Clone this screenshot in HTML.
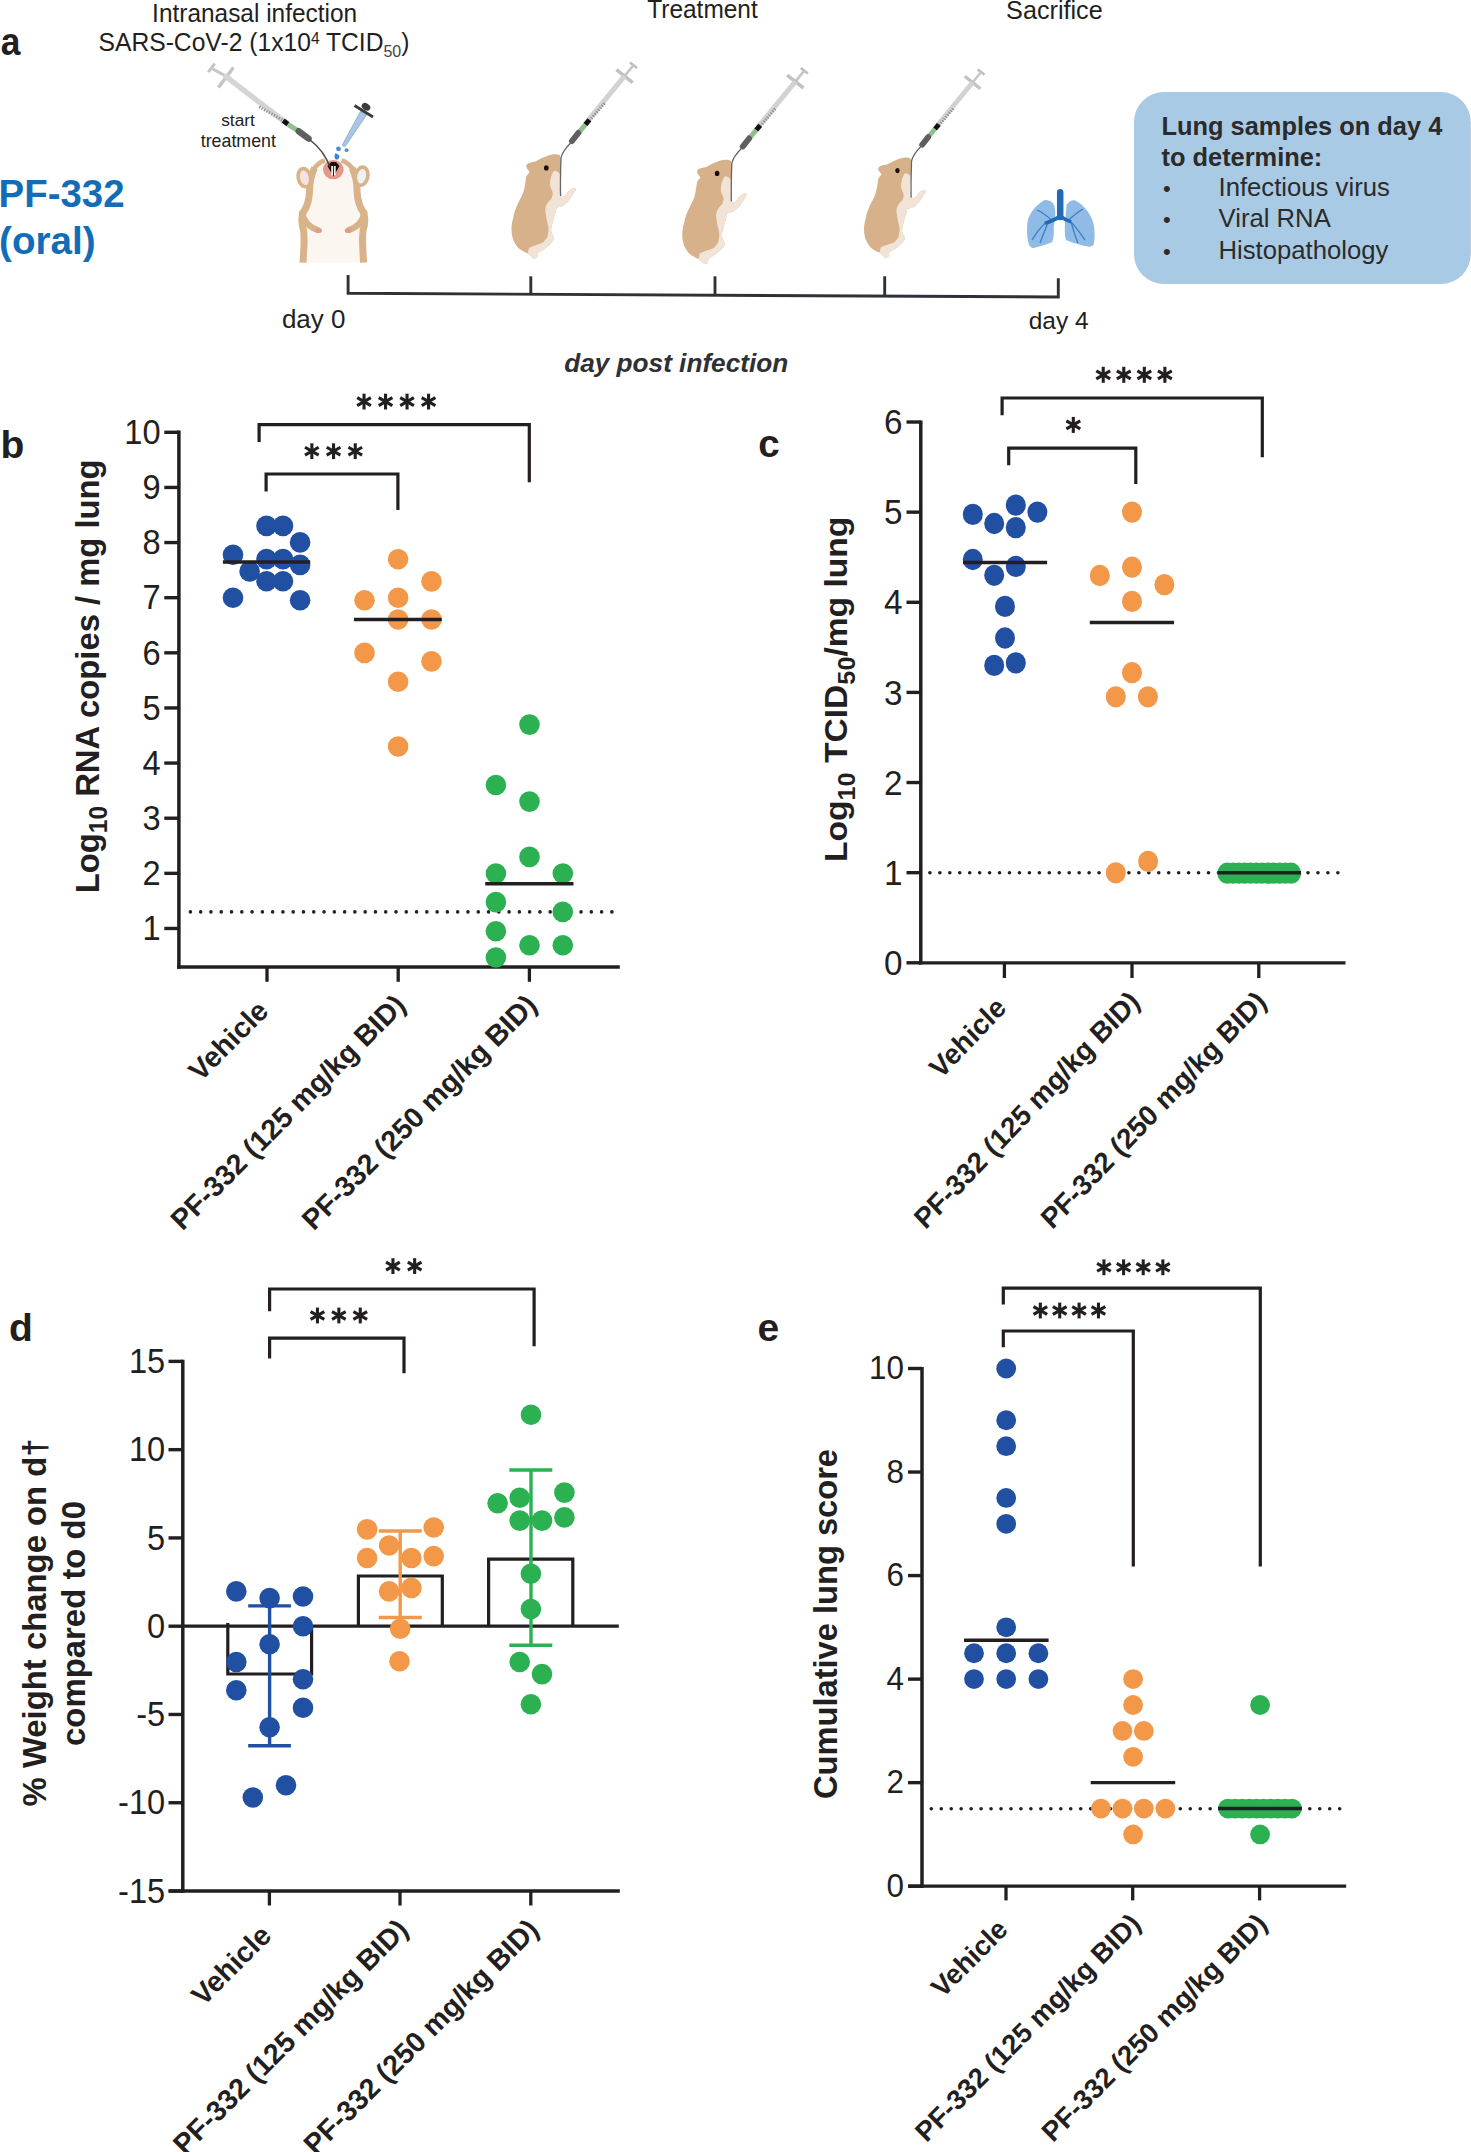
<!DOCTYPE html>
<html><head><meta charset="utf-8"><title>figure</title>
<style>
html,body{margin:0;padding:0;background:#fff;}
body{width:1471px;height:2152px;overflow:hidden;}
svg{display:block;}
</style></head><body>
<svg width="1471" height="2152" viewBox="0 0 1471 2152">
<rect width="1471" height="2152" fill="#fff"/>
<g id="a_box">
<rect x="1134" y="92" width="336.8" height="192" rx="30" ry="30" fill="#a9cae5"/>
</g>
<g id="a_a">
<text transform="translate(0.8,55) scale(0.92,1)" font-family="Liberation Sans" font-size="38.5" font-weight="700" text-anchor="start" fill="#231f20" >a</text>
</g>
<g id="a_intra">
<text transform="translate(254.6,22.4)" font-family="Liberation Sans" font-size="26" font-weight="400" text-anchor="middle" fill="#231f20"  textLength="205" lengthAdjust="spacingAndGlyphs">Intranasal infection</text>
</g>
<g id="a_sars">
<text transform="translate(98.5,51.1)" font-family="Liberation Sans" font-size="25.4" fill="#231f20" textLength="311" lengthAdjust="spacingAndGlyphs">SARS-CoV-2 (1x10<tspan font-size="16" dy="-7.6">4</tspan><tspan dy="7.6"> TCID</tspan><tspan font-size="16.5" dy="5.5" fill="#444">50</tspan><tspan dy="-5.5">)</tspan></text>
</g>
<g id="a_treat">
<text transform="translate(702.5,17.7) scale(0.93,1)" font-family="Liberation Sans" font-size="26.3" font-weight="400" text-anchor="middle" fill="#231f20" >Treatment</text>
</g>
<g id="a_sacr">
<text transform="translate(1054.4,18.8)" font-family="Liberation Sans" font-size="25.2" font-weight="400" text-anchor="middle" fill="#231f20" >Sacrifice</text>
</g>
<g id="a_pf">
<text transform="translate(-1.4,207) scale(0.97,1)" font-family="Liberation Sans" font-size="39.6" font-weight="700" text-anchor="start" fill="#126db8" >PF-332</text>
</g>
<g id="a_oral">
<text transform="translate(-0.9,253.8) scale(0.98,1)" font-family="Liberation Sans" font-size="39.4" font-weight="700" text-anchor="start" fill="#126db8" >(oral)</text>
</g>
<g id="a_day0">
<text transform="translate(313.7,327.8)" font-family="Liberation Sans" font-size="26" font-weight="400" text-anchor="middle" fill="#231f20" >day 0</text>
</g>
<g id="a_day4">
<text transform="translate(1058.6,328.8)" font-family="Liberation Sans" font-size="24.5" font-weight="400" text-anchor="middle" fill="#231f20" >day 4</text>
</g>
<g id="a_dpi">
<text transform="translate(676.2,371.6)" font-family="Liberation Sans" font-size="26.2" font-weight="700" font-style="italic" fill="#2e3033" text-anchor="middle">day post infection</text>
</g>
<g id="a_start">
<text transform="translate(238,126.3)" font-family="Liberation Sans" font-size="17.3" font-weight="400" text-anchor="middle" fill="#222" >start</text>
</g>
<g id="a_treatment">
<text transform="translate(238.3,146.5)" font-family="Liberation Sans" font-size="17.8" font-weight="400" text-anchor="middle" fill="#222" >treatment</text>
</g>
<g id="a_lung1">
<text transform="translate(1161.5,135.2)" font-family="Liberation Sans" font-size="25.4" font-weight="700" text-anchor="start" fill="#2b2b2b" >Lung samples on day 4</text>
</g>
<g id="a_lung2">
<text transform="translate(1161.5,166)" font-family="Liberation Sans" font-size="25.4" font-weight="700" text-anchor="start" fill="#2b2b2b" >to determine:</text>
</g>
<g id="a_bul0">
<text transform="translate(1163,196.2)" font-family="Liberation Sans" font-size="22" font-weight="400" text-anchor="start" fill="#2b2b2b" >•</text>
</g>
<g id="a_li0">
<text transform="translate(1218.5,196.2)" font-family="Liberation Sans" font-size="25.7" font-weight="400" text-anchor="start" fill="#2b2b2b" >Infectious virus</text>
</g>
<g id="a_bul1">
<text transform="translate(1163,227.4)" font-family="Liberation Sans" font-size="22" font-weight="400" text-anchor="start" fill="#2b2b2b" >•</text>
</g>
<g id="a_li1">
<text transform="translate(1218.5,227.4)" font-family="Liberation Sans" font-size="25.7" font-weight="400" text-anchor="start" fill="#2b2b2b" >Viral RNA</text>
</g>
<g id="a_bul2">
<text transform="translate(1163,258.6)" font-family="Liberation Sans" font-size="22" font-weight="400" text-anchor="start" fill="#2b2b2b" >•</text>
</g>
<g id="a_li2">
<text transform="translate(1218.5,258.6)" font-family="Liberation Sans" font-size="25.7" font-weight="400" text-anchor="start" fill="#2b2b2b" >Histopathology</text>
</g>
<g id="a_timeline">
<path d="M348.1,275.1 L348.1,293.3 L1058.3,297.0 L1058.3,278.2" fill="none" stroke="#2e3236" stroke-width="2.9"/>
<line x1="530.8" y1="276.3" x2="530.8" y2="294.25" stroke="#2e3236" stroke-width="2.9" />
<line x1="715" y1="276.3" x2="715" y2="295.21" stroke="#2e3236" stroke-width="2.9" />
<line x1="884.7" y1="276.3" x2="884.7" y2="296.1" stroke="#2e3236" stroke-width="2.9" />
</g>
<g id="a_art">
<path d="M314,168 C311,176 310,185 310,195 C309,205 306,212 305,220 L305,262.6 L362,262.6 L362,220 C361,212 358,205 357,195 C357,185 356,176 353,168 C348,162 340,158 333.5,158 C327,158 319,162 314,168 Z" fill="#fcf6f1"/>
<path d="M314.5,168 C311,175 309.5,183 309.5,192 C309,200 307,207 303.5,212 C301,218 301.5,224 303.5,230 C305,240 303.5,252 303,262.6" fill="none" stroke="#d8b38a" stroke-width="7"/>
<path d="M352.1,168 C355.6,175 357.1,183 357.1,192 C357.6,200 359.6,207 363.1,212 C365.6,218 365.1,224 363.1,230 C361.6,240 363.1,252 363.6,262.6" fill="none" stroke="#d8b38a" stroke-width="7"/>
<path d="M313,170 C317,164 321,161.5 325,160.5 M341.5,160.5 C345.5,161.5 349.5,164 353.5,170" fill="none" stroke="#d8b38a" stroke-width="4.5"/>
<path d="M302,213 C304,222 310,227.5 318,230" fill="none" stroke="#d8b38a" stroke-width="6" stroke-linecap="round"/>
<path d="M364.6,213 C362.6,222 356.6,227.5 348.6,230" fill="none" stroke="#d8b38a" stroke-width="6" stroke-linecap="round"/>
<ellipse cx="318.5" cy="230.5" rx="3.5" ry="2.6" fill="#dca184"/><ellipse cx="348.3" cy="230.5" rx="3.5" ry="2.6" fill="#dca184"/>
<ellipse cx="304.4" cy="177.7" rx="6.2" ry="9.2" transform="rotate(-12 304.4 177.7)" fill="#f3e3e3" stroke="#d8b38a" stroke-width="3.6"/>
<ellipse cx="361.6" cy="176.2" rx="6.2" ry="9.2" transform="rotate(12 361.6 176.2)" fill="#eef0f4" stroke="#d8b38a" stroke-width="3.6"/>
<ellipse cx="333.3" cy="169.6" rx="10.3" ry="9.6" fill="#e3978d"/>
<path d="M327.5,166 L333.4,176.5 L339.5,166 L336,162 L331,162 Z" fill="#1a0c0c"/>
<rect x="331.2" y="166" width="1.8" height="9.5" fill="#f4eee8"/><rect x="333.9" y="166" width="1.8" height="9.5" fill="#f4eee8"/>
<g transform="translate(560.4,156) scale(1) translate(-560.4,-156)">
<path d="M559.9,155.2 C557,154 555,154 552.3,154.4 C549,155 546,156.3 543.1,157.6 C540,159 538,160.3 535.5,161.4 C532,162 529.5,162.5 527.8,163.6 C526,165 526,166.5 526.8,167.9 C527.5,169.5 529.5,171 529.5,172.3 C528,174 526.5,175.5 526.2,177.2 C525.8,178.5 525.7,179.5 525.7,180.5 C525,185 524.5,189 522.9,193.5 C521,198 519,201 517.5,204.4 C515,210 514,213 513.2,218 C512,222 511.5,225 511.5,228.8 C511.5,233 512,236 513.2,239.7 C515,244 517,247 520.2,249.5 C523,251.5 525.5,252.5 527.8,253.3 L530.6,256 L533.8,258.8 L537.1,257.7 L537.6,253.3 C540,251.8 542,250.5 544.2,249 C547,247 550,244.5 551.8,242.4 C553,241 554,239.5 553.9,238.1 C553.5,236 551.5,233.5 551.2,231.6 C551,228.5 551.5,226 552.3,223.4 C553.5,219 554.5,215 555.6,211.4 L556.7,207.6 C559,207 561.5,206.5 563.7,205.5 C565.5,204 567.5,202 569.2,200 C571,197.5 572.5,195 574.1,192.4 C575,191.2 576,190.2 576.2,189.2 C575.5,188.2 574,187.8 573,188.1 C571.5,188.8 570,190 568.6,191.3 C567,193 566,194.8 564.8,196.2 C563.5,196.8 562,197 561,196.8 C560,194 559.5,191 559.4,188.1 C559.3,183.5 559.6,179 559.9,174.5 C560.2,170.5 561,167 561,163.6 C561,160.5 560.8,157.5 559.9,155.2 Z" fill="#d6b189"/>
<path d="M553.9,170.7 C552.5,173 551.3,175.5 550.7,178.3 C550.2,180.5 550,183 550.1,185.3 C550.5,188 552.5,191 552.9,193.5 C552.5,196 551.8,197.5 551.2,198.9 C550,200 549,201 548,202.2 C546.5,204.5 545.5,207 545.2,209.8 C545.5,213.5 546.2,217 546.9,220.7 C547.5,223.5 548.3,226 548.5,228.8 C548.5,231.5 548,234.5 547.4,237 C546,239 544.8,240.8 543.1,242.4 C540.5,243.5 538,244.5 535.5,245.2 C533,246 531,247 528.9,247.9 L527.8,253.3 L530.6,256 L533.8,258.8 L537.1,257.7 L537.6,253.3 C540,251.8 542,250.5 544.2,249 C547,247 550,244.5 551.8,242.4 C553,241 554,239.5 553.9,238.1 C553.5,236 551.5,233.5 551.2,231.6 C551,228.5 551.5,226 552.3,223.4 C553.5,219 554.5,215 555.6,211.4 L556.7,207.6 C559,207 561.5,206.5 563.7,205.5 C565.5,204 567.5,202 569.2,200 C571,197.5 572.5,195 574.1,192.4 C575,191.2 576,190.2 576.2,189.2 C575.5,188.2 574,187.8 573,188.1 C571.5,188.8 570,190 568.6,191.3 C567,193 566,194.8 564.8,196.2 C563.5,196.8 562,197 561,196.8 C560,194 559.5,191 559.4,188.1 C559.3,183.5 559.6,179 559.9,174.5 C559,172 556,170.5 553.9,170.7 Z" fill="#f1e4d6"/>
<ellipse cx="546.3" cy="167.9" rx="2.3" ry="2.7" fill="#1a0a0a"/>
<g>
<line x1="630" y1="62.5" x2="637" y2="68" stroke="#bdbdbd" stroke-width="2.6"/>
<line x1="633.5" y1="65.2" x2="624.5" y2="76.1" stroke="#c6c6c6" stroke-width="2.6"/>
<line x1="616.4" y1="69.6" x2="632.7" y2="82.6" stroke="#c2c2c2" stroke-width="3.6"/>
<line x1="624.5" y1="76.1" x2="587.5" y2="121.2" stroke="#d2d2d2" stroke-width="5"/>
<line x1="604.4" y1="103.3" x2="589.8" y2="120.3" stroke="#8a8a8a" stroke-width="3" stroke-dasharray="1.2,1.5"/>
<line x1="589.4" y1="119.8" x2="585.3" y2="124.6" stroke="#111" stroke-width="5"/>
<line x1="585.3" y1="124.6" x2="579.3" y2="131.8" stroke="#8fc08f" stroke-width="5"/>
<line x1="578.3" y1="133" x2="572" y2="141" stroke="#5f5f5f" stroke-width="6" stroke-linecap="round"/>
<path d="M571.5,142 C566,147.5 562,152 561,158 C560.6,170 560.2,185 560.6,196" fill="none" stroke="#666" stroke-width="1.3"/>
</g>
</g>
<g transform="translate(731.2,161.5) scale(1) translate(-560.4,-156)">
<path d="M559.9,155.2 C557,154 555,154 552.3,154.4 C549,155 546,156.3 543.1,157.6 C540,159 538,160.3 535.5,161.4 C532,162 529.5,162.5 527.8,163.6 C526,165 526,166.5 526.8,167.9 C527.5,169.5 529.5,171 529.5,172.3 C528,174 526.5,175.5 526.2,177.2 C525.8,178.5 525.7,179.5 525.7,180.5 C525,185 524.5,189 522.9,193.5 C521,198 519,201 517.5,204.4 C515,210 514,213 513.2,218 C512,222 511.5,225 511.5,228.8 C511.5,233 512,236 513.2,239.7 C515,244 517,247 520.2,249.5 C523,251.5 525.5,252.5 527.8,253.3 L530.6,256 L533.8,258.8 L537.1,257.7 L537.6,253.3 C540,251.8 542,250.5 544.2,249 C547,247 550,244.5 551.8,242.4 C553,241 554,239.5 553.9,238.1 C553.5,236 551.5,233.5 551.2,231.6 C551,228.5 551.5,226 552.3,223.4 C553.5,219 554.5,215 555.6,211.4 L556.7,207.6 C559,207 561.5,206.5 563.7,205.5 C565.5,204 567.5,202 569.2,200 C571,197.5 572.5,195 574.1,192.4 C575,191.2 576,190.2 576.2,189.2 C575.5,188.2 574,187.8 573,188.1 C571.5,188.8 570,190 568.6,191.3 C567,193 566,194.8 564.8,196.2 C563.5,196.8 562,197 561,196.8 C560,194 559.5,191 559.4,188.1 C559.3,183.5 559.6,179 559.9,174.5 C560.2,170.5 561,167 561,163.6 C561,160.5 560.8,157.5 559.9,155.2 Z" fill="#d6b189"/>
<path d="M553.9,170.7 C552.5,173 551.3,175.5 550.7,178.3 C550.2,180.5 550,183 550.1,185.3 C550.5,188 552.5,191 552.9,193.5 C552.5,196 551.8,197.5 551.2,198.9 C550,200 549,201 548,202.2 C546.5,204.5 545.5,207 545.2,209.8 C545.5,213.5 546.2,217 546.9,220.7 C547.5,223.5 548.3,226 548.5,228.8 C548.5,231.5 548,234.5 547.4,237 C546,239 544.8,240.8 543.1,242.4 C540.5,243.5 538,244.5 535.5,245.2 C533,246 531,247 528.9,247.9 L527.8,253.3 L530.6,256 L533.8,258.8 L537.1,257.7 L537.6,253.3 C540,251.8 542,250.5 544.2,249 C547,247 550,244.5 551.8,242.4 C553,241 554,239.5 553.9,238.1 C553.5,236 551.5,233.5 551.2,231.6 C551,228.5 551.5,226 552.3,223.4 C553.5,219 554.5,215 555.6,211.4 L556.7,207.6 C559,207 561.5,206.5 563.7,205.5 C565.5,204 567.5,202 569.2,200 C571,197.5 572.5,195 574.1,192.4 C575,191.2 576,190.2 576.2,189.2 C575.5,188.2 574,187.8 573,188.1 C571.5,188.8 570,190 568.6,191.3 C567,193 566,194.8 564.8,196.2 C563.5,196.8 562,197 561,196.8 C560,194 559.5,191 559.4,188.1 C559.3,183.5 559.6,179 559.9,174.5 C559,172 556,170.5 553.9,170.7 Z" fill="#f1e4d6"/>
<ellipse cx="546.3" cy="167.9" rx="2.3" ry="2.7" fill="#1a0a0a"/>
<g>
<line x1="630" y1="62.5" x2="637" y2="68" stroke="#bdbdbd" stroke-width="2.6"/>
<line x1="633.5" y1="65.2" x2="624.5" y2="76.1" stroke="#c6c6c6" stroke-width="2.6"/>
<line x1="616.4" y1="69.6" x2="632.7" y2="82.6" stroke="#c2c2c2" stroke-width="3.6"/>
<line x1="624.5" y1="76.1" x2="587.5" y2="121.2" stroke="#d2d2d2" stroke-width="5"/>
<line x1="604.4" y1="103.3" x2="589.8" y2="120.3" stroke="#8a8a8a" stroke-width="3" stroke-dasharray="1.2,1.5"/>
<line x1="589.4" y1="119.8" x2="585.3" y2="124.6" stroke="#111" stroke-width="5"/>
<line x1="585.3" y1="124.6" x2="579.3" y2="131.8" stroke="#8fc08f" stroke-width="5"/>
<line x1="578.3" y1="133" x2="572" y2="141" stroke="#5f5f5f" stroke-width="6" stroke-linecap="round"/>
<path d="M571.5,142 C566,147.5 562,152 561,158 C560.6,170 560.2,185 560.6,196" fill="none" stroke="#666" stroke-width="1.3"/>
</g>
</g>
<g transform="translate(911,159.2) scale(0.96) translate(-560.4,-156)">
<path d="M559.9,155.2 C557,154 555,154 552.3,154.4 C549,155 546,156.3 543.1,157.6 C540,159 538,160.3 535.5,161.4 C532,162 529.5,162.5 527.8,163.6 C526,165 526,166.5 526.8,167.9 C527.5,169.5 529.5,171 529.5,172.3 C528,174 526.5,175.5 526.2,177.2 C525.8,178.5 525.7,179.5 525.7,180.5 C525,185 524.5,189 522.9,193.5 C521,198 519,201 517.5,204.4 C515,210 514,213 513.2,218 C512,222 511.5,225 511.5,228.8 C511.5,233 512,236 513.2,239.7 C515,244 517,247 520.2,249.5 C523,251.5 525.5,252.5 527.8,253.3 L530.6,256 L533.8,258.8 L537.1,257.7 L537.6,253.3 C540,251.8 542,250.5 544.2,249 C547,247 550,244.5 551.8,242.4 C553,241 554,239.5 553.9,238.1 C553.5,236 551.5,233.5 551.2,231.6 C551,228.5 551.5,226 552.3,223.4 C553.5,219 554.5,215 555.6,211.4 L556.7,207.6 C559,207 561.5,206.5 563.7,205.5 C565.5,204 567.5,202 569.2,200 C571,197.5 572.5,195 574.1,192.4 C575,191.2 576,190.2 576.2,189.2 C575.5,188.2 574,187.8 573,188.1 C571.5,188.8 570,190 568.6,191.3 C567,193 566,194.8 564.8,196.2 C563.5,196.8 562,197 561,196.8 C560,194 559.5,191 559.4,188.1 C559.3,183.5 559.6,179 559.9,174.5 C560.2,170.5 561,167 561,163.6 C561,160.5 560.8,157.5 559.9,155.2 Z" fill="#d6b189"/>
<path d="M553.9,170.7 C552.5,173 551.3,175.5 550.7,178.3 C550.2,180.5 550,183 550.1,185.3 C550.5,188 552.5,191 552.9,193.5 C552.5,196 551.8,197.5 551.2,198.9 C550,200 549,201 548,202.2 C546.5,204.5 545.5,207 545.2,209.8 C545.5,213.5 546.2,217 546.9,220.7 C547.5,223.5 548.3,226 548.5,228.8 C548.5,231.5 548,234.5 547.4,237 C546,239 544.8,240.8 543.1,242.4 C540.5,243.5 538,244.5 535.5,245.2 C533,246 531,247 528.9,247.9 L527.8,253.3 L530.6,256 L533.8,258.8 L537.1,257.7 L537.6,253.3 C540,251.8 542,250.5 544.2,249 C547,247 550,244.5 551.8,242.4 C553,241 554,239.5 553.9,238.1 C553.5,236 551.5,233.5 551.2,231.6 C551,228.5 551.5,226 552.3,223.4 C553.5,219 554.5,215 555.6,211.4 L556.7,207.6 C559,207 561.5,206.5 563.7,205.5 C565.5,204 567.5,202 569.2,200 C571,197.5 572.5,195 574.1,192.4 C575,191.2 576,190.2 576.2,189.2 C575.5,188.2 574,187.8 573,188.1 C571.5,188.8 570,190 568.6,191.3 C567,193 566,194.8 564.8,196.2 C563.5,196.8 562,197 561,196.8 C560,194 559.5,191 559.4,188.1 C559.3,183.5 559.6,179 559.9,174.5 C559,172 556,170.5 553.9,170.7 Z" fill="#f1e4d6"/>
<ellipse cx="546.3" cy="167.9" rx="2.3" ry="2.7" fill="#1a0a0a"/>
<g>
<line x1="630" y1="62.5" x2="637" y2="68" stroke="#bdbdbd" stroke-width="2.6"/>
<line x1="633.5" y1="65.2" x2="624.5" y2="76.1" stroke="#c6c6c6" stroke-width="2.6"/>
<line x1="616.4" y1="69.6" x2="632.7" y2="82.6" stroke="#c2c2c2" stroke-width="3.6"/>
<line x1="624.5" y1="76.1" x2="587.5" y2="121.2" stroke="#d2d2d2" stroke-width="5"/>
<line x1="604.4" y1="103.3" x2="589.8" y2="120.3" stroke="#8a8a8a" stroke-width="3" stroke-dasharray="1.2,1.5"/>
<line x1="589.4" y1="119.8" x2="585.3" y2="124.6" stroke="#111" stroke-width="5"/>
<line x1="585.3" y1="124.6" x2="579.3" y2="131.8" stroke="#8fc08f" stroke-width="5"/>
<line x1="578.3" y1="133" x2="572" y2="141" stroke="#5f5f5f" stroke-width="6" stroke-linecap="round"/>
<path d="M571.5,142 C566,147.5 562,152 561,158 C560.6,170 560.2,185 560.6,196" fill="none" stroke="#666" stroke-width="1.3"/>
</g>
</g>
<line x1="208.2" y1="72.1" x2="214.7" y2="63.6" stroke="#c4c4c4" stroke-width="3"/>
<line x1="211.4" y1="68.1" x2="224.5" y2="75.4" stroke="#c8c8c8" stroke-width="3"/>
<line x1="218.4" y1="87.6" x2="233.4" y2="67.6" stroke="#c4c4c4" stroke-width="3.3"/>
<line x1="224.5" y1="75.4" x2="284" y2="121.2" stroke="#d4d4d4" stroke-width="5.5"/>
<line x1="259.3" y1="106.8" x2="283.2" y2="120.5" stroke="#8c8c8c" stroke-width="3" stroke-dasharray="1.2,1.6"/>
<line x1="283.2" y1="120.5" x2="288" y2="124.3" stroke="#111" stroke-width="5"/>
<line x1="288" y1="124.3" x2="297.5" y2="130.5" stroke="#8fc08f" stroke-width="5"/>
<line x1="298.8" y1="131.3" x2="308.5" y2="138.5" stroke="#5f5f5f" stroke-width="6.5" stroke-linecap="round"/>
<path d="M309.5,139.5 C318,146 326,156 330,167" fill="none" stroke="#444" stroke-width="1.5"/>
<path d="M360.5,111.3 L366.5,114.9 L345.9,145.4 C345,146.8 343,146.6 342.3,145 Z" fill="#a9c6e6" stroke="#8aa6c4" stroke-width="0.8"/>
<line x1="354.5" y1="105.5" x2="373" y2="117" stroke="#3a3a3a" stroke-width="2.8"/>
<ellipse cx="366" cy="106.8" rx="4.6" ry="3.4" transform="rotate(32 366 106.8)" fill="#3d3d3d"/>
<circle cx="338.5" cy="148.9" r="2.4" fill="#4a8fd4"/><circle cx="346.6" cy="150.2" r="1.9" fill="#5a8fc4"/>
<path d="M335.5,153 C334,156 334,158.5 336,159.5 C338.5,160 340,157.5 339,155 Z" fill="#3b86d6"/>
<path d="M1044.1,200.2 C1036,205 1029.5,213 1027.7,221.1 C1026.5,230 1027,239 1029.2,245.1 C1030.5,247.5 1032,248.3 1033.6,248 C1040,246.5 1047,244.5 1052.3,242.1 C1054,237 1054,231 1053.8,226.4 C1054.5,221 1055.5,216.5 1055.3,212.2 C1055,207 1054,204 1052.3,202.4 C1050,200.5 1047,199.5 1044.1,200.2 Z" fill="#8fbbe6"/>
<path d="M1074.8,200.2 C1083,204 1090.5,213 1093.5,223.4 C1095,231 1095,239 1093.5,245.1 C1092,246.5 1090,247 1088.2,246.6 C1080,245 1071,242.5 1065.8,239.8 C1064.5,234 1064.6,228 1065.1,221.9 C1065.6,215 1066.3,209.5 1066.6,204.7 C1068.5,201.5 1071.5,199.8 1074.8,200.2 Z" fill="#8fbbe6"/>
<path d="M1059.8,216.6 C1055,219.5 1050,221.5 1044.9,223.4 M1044.9,223.4 C1040,228 1036,233 1032,240 M1048,222 C1046,228 1043,235 1040,243 M1060.5,216.6 C1064,219 1067,220.5 1071,221.9 M1071,221.9 C1076,227 1080,233 1085,240 M1071,221.9 C1073,229 1075,236 1078,243 M1068,220.5 C1073,216 1078,212 1083,209 M1052,220.5 C1047,216 1042,212 1037,210" fill="none" stroke="#3d7cc2" stroke-width="1.3"/>
<path d="M1059.8,216.6 C1055,219.5 1050,221.5 1044.9,223.4 M1060.5,216.6 C1064,219 1067,220.5 1071,221.9" fill="none" stroke="#1f6bb5" stroke-width="3.6"/>
<line x1="1060.2" y1="192.3" x2="1060.2" y2="217" stroke="#1f6bb5" stroke-width="6.5" stroke-linecap="round"/>
</g>
<g id="b_axes">
<line x1="178.9" y1="430.6" x2="178.9" y2="968.7" stroke="#231f20" stroke-width="3.5" />
<line x1="177.2" y1="967" x2="619.8" y2="967" stroke="#231f20" stroke-width="3.5" />
<line x1="164.3" y1="928.47" x2="178.9" y2="928.47" stroke="#231f20" stroke-width="3.4" />
<text transform="translate(160.6,940.19) scale(0.94,1)" font-family="Liberation Sans" font-size="34.7" font-weight="400" text-anchor="end" fill="#231f20" >1</text>
<line x1="164.3" y1="873.34" x2="178.9" y2="873.34" stroke="#231f20" stroke-width="3.4" />
<text transform="translate(160.6,885.06) scale(0.94,1)" font-family="Liberation Sans" font-size="34.7" font-weight="400" text-anchor="end" fill="#231f20" >2</text>
<line x1="164.3" y1="818.21" x2="178.9" y2="818.21" stroke="#231f20" stroke-width="3.4" />
<text transform="translate(160.6,829.93) scale(0.94,1)" font-family="Liberation Sans" font-size="34.7" font-weight="400" text-anchor="end" fill="#231f20" >3</text>
<line x1="164.3" y1="763.08" x2="178.9" y2="763.08" stroke="#231f20" stroke-width="3.4" />
<text transform="translate(160.6,774.8) scale(0.94,1)" font-family="Liberation Sans" font-size="34.7" font-weight="400" text-anchor="end" fill="#231f20" >4</text>
<line x1="164.3" y1="707.95" x2="178.9" y2="707.95" stroke="#231f20" stroke-width="3.4" />
<text transform="translate(160.6,719.67) scale(0.94,1)" font-family="Liberation Sans" font-size="34.7" font-weight="400" text-anchor="end" fill="#231f20" >5</text>
<line x1="164.3" y1="652.82" x2="178.9" y2="652.82" stroke="#231f20" stroke-width="3.4" />
<text transform="translate(160.6,664.54) scale(0.94,1)" font-family="Liberation Sans" font-size="34.7" font-weight="400" text-anchor="end" fill="#231f20" >6</text>
<line x1="164.3" y1="597.69" x2="178.9" y2="597.69" stroke="#231f20" stroke-width="3.4" />
<text transform="translate(160.6,609.41) scale(0.94,1)" font-family="Liberation Sans" font-size="34.7" font-weight="400" text-anchor="end" fill="#231f20" >7</text>
<line x1="164.3" y1="542.56" x2="178.9" y2="542.56" stroke="#231f20" stroke-width="3.4" />
<text transform="translate(160.6,554.28) scale(0.94,1)" font-family="Liberation Sans" font-size="34.7" font-weight="400" text-anchor="end" fill="#231f20" >8</text>
<line x1="164.3" y1="487.43" x2="178.9" y2="487.43" stroke="#231f20" stroke-width="3.4" />
<text transform="translate(160.6,499.15) scale(0.94,1)" font-family="Liberation Sans" font-size="34.7" font-weight="400" text-anchor="end" fill="#231f20" >9</text>
<line x1="164.3" y1="432.3" x2="178.9" y2="432.3" stroke="#231f20" stroke-width="3.4" />
<text transform="translate(160.6,444.02) scale(0.94,1)" font-family="Liberation Sans" font-size="34.7" font-weight="400" text-anchor="end" fill="#231f20" >10</text>
<line x1="267" y1="967" x2="267" y2="981.8" stroke="#231f20" stroke-width="3.3" />
<line x1="398.2" y1="967" x2="398.2" y2="981.8" stroke="#231f20" stroke-width="3.3" />
<line x1="529.4" y1="967" x2="529.4" y2="981.8" stroke="#231f20" stroke-width="3.3" />
</g>
<g id="b_data">
<circle cx="190.4" cy="911.9" r="1.8" fill="#231f20"/>
<circle cx="200.68" cy="911.9" r="1.8" fill="#231f20"/>
<circle cx="210.96" cy="911.9" r="1.8" fill="#231f20"/>
<circle cx="221.24" cy="911.9" r="1.8" fill="#231f20"/>
<circle cx="231.52" cy="911.9" r="1.8" fill="#231f20"/>
<circle cx="241.8" cy="911.9" r="1.8" fill="#231f20"/>
<circle cx="252.08" cy="911.9" r="1.8" fill="#231f20"/>
<circle cx="262.36" cy="911.9" r="1.8" fill="#231f20"/>
<circle cx="272.64" cy="911.9" r="1.8" fill="#231f20"/>
<circle cx="282.92" cy="911.9" r="1.8" fill="#231f20"/>
<circle cx="293.2" cy="911.9" r="1.8" fill="#231f20"/>
<circle cx="303.48" cy="911.9" r="1.8" fill="#231f20"/>
<circle cx="313.76" cy="911.9" r="1.8" fill="#231f20"/>
<circle cx="324.04" cy="911.9" r="1.8" fill="#231f20"/>
<circle cx="334.32" cy="911.9" r="1.8" fill="#231f20"/>
<circle cx="344.6" cy="911.9" r="1.8" fill="#231f20"/>
<circle cx="354.88" cy="911.9" r="1.8" fill="#231f20"/>
<circle cx="365.16" cy="911.9" r="1.8" fill="#231f20"/>
<circle cx="375.44" cy="911.9" r="1.8" fill="#231f20"/>
<circle cx="385.72" cy="911.9" r="1.8" fill="#231f20"/>
<circle cx="396" cy="911.9" r="1.8" fill="#231f20"/>
<circle cx="406.28" cy="911.9" r="1.8" fill="#231f20"/>
<circle cx="416.56" cy="911.9" r="1.8" fill="#231f20"/>
<circle cx="426.84" cy="911.9" r="1.8" fill="#231f20"/>
<circle cx="437.12" cy="911.9" r="1.8" fill="#231f20"/>
<circle cx="447.4" cy="911.9" r="1.8" fill="#231f20"/>
<circle cx="457.68" cy="911.9" r="1.8" fill="#231f20"/>
<circle cx="467.96" cy="911.9" r="1.8" fill="#231f20"/>
<circle cx="478.24" cy="911.9" r="1.8" fill="#231f20"/>
<circle cx="488.52" cy="911.9" r="1.8" fill="#231f20"/>
<circle cx="498.8" cy="911.9" r="1.8" fill="#231f20"/>
<circle cx="509.08" cy="911.9" r="1.8" fill="#231f20"/>
<circle cx="519.36" cy="911.9" r="1.8" fill="#231f20"/>
<circle cx="529.64" cy="911.9" r="1.8" fill="#231f20"/>
<circle cx="539.92" cy="911.9" r="1.8" fill="#231f20"/>
<circle cx="550.2" cy="911.9" r="1.8" fill="#231f20"/>
<circle cx="560.48" cy="911.9" r="1.8" fill="#231f20"/>
<circle cx="570.76" cy="911.9" r="1.8" fill="#231f20"/>
<circle cx="581.04" cy="911.9" r="1.8" fill="#231f20"/>
<circle cx="591.32" cy="911.9" r="1.8" fill="#231f20"/>
<circle cx="601.6" cy="911.9" r="1.8" fill="#231f20"/>
<circle cx="611.88" cy="911.9" r="1.8" fill="#231f20"/>
<circle cx="266.5" cy="525.9" r="10.3" fill="#214fa2"/>
<circle cx="283" cy="525.9" r="10.3" fill="#214fa2"/>
<circle cx="300.1" cy="542.4" r="10.3" fill="#214fa2"/>
<circle cx="233" cy="554.8" r="10.3" fill="#214fa2"/>
<circle cx="266.5" cy="559.1" r="10.3" fill="#214fa2"/>
<circle cx="283" cy="559.1" r="10.3" fill="#214fa2"/>
<circle cx="300.1" cy="564.9" r="10.3" fill="#214fa2"/>
<circle cx="249.6" cy="571.4" r="10.3" fill="#214fa2"/>
<circle cx="266.5" cy="581.2" r="10.3" fill="#214fa2"/>
<circle cx="283" cy="581.2" r="10.3" fill="#214fa2"/>
<circle cx="233" cy="597.7" r="10.3" fill="#214fa2"/>
<circle cx="300.1" cy="600.3" r="10.3" fill="#214fa2"/>
<circle cx="398.1" cy="559.2" r="10.3" fill="#f39748"/>
<circle cx="431.5" cy="581.4" r="10.3" fill="#f39748"/>
<circle cx="364.5" cy="600.2" r="10.3" fill="#f39748"/>
<circle cx="398.1" cy="597.8" r="10.3" fill="#f39748"/>
<circle cx="398.1" cy="619.5" r="10.3" fill="#f39748"/>
<circle cx="431.5" cy="619.5" r="10.3" fill="#f39748"/>
<circle cx="364.5" cy="652.9" r="10.3" fill="#f39748"/>
<circle cx="431.5" cy="661.4" r="10.3" fill="#f39748"/>
<circle cx="398.1" cy="681.8" r="10.3" fill="#f39748"/>
<circle cx="398.1" cy="746.5" r="10.3" fill="#f39748"/>
<circle cx="529.5" cy="724.6" r="10.3" fill="#2bb052"/>
<circle cx="495.9" cy="785" r="10.3" fill="#2bb052"/>
<circle cx="529.5" cy="801.6" r="10.3" fill="#2bb052"/>
<circle cx="529.5" cy="856.9" r="10.3" fill="#2bb052"/>
<circle cx="495.9" cy="873.5" r="10.3" fill="#2bb052"/>
<circle cx="562.8" cy="873.5" r="10.3" fill="#2bb052"/>
<circle cx="495.9" cy="902.1" r="10.3" fill="#2bb052"/>
<circle cx="562.8" cy="911.9" r="10.3" fill="#2bb052"/>
<circle cx="495.9" cy="931.2" r="10.3" fill="#2bb052"/>
<circle cx="529.5" cy="945.2" r="10.3" fill="#2bb052"/>
<circle cx="562.8" cy="945.2" r="10.3" fill="#2bb052"/>
<circle cx="495.9" cy="957.5" r="10.3" fill="#2bb052"/>
<line x1="222.9" y1="562" x2="310.2" y2="562" stroke="#231f20" stroke-width="3.4" />
<line x1="354" y1="619.5" x2="441.8" y2="619.5" stroke="#231f20" stroke-width="3.4" />
<line x1="485.2" y1="883.8" x2="573.5" y2="883.8" stroke="#231f20" stroke-width="3.6" />
</g>
<g id="b_sig">
<polyline points="259.1,442 259.1,424.6 529.3,424.6 529.3,482.2" fill="none" stroke="#231f20" stroke-width="3.2" stroke-linejoin="miter" />
<polyline points="266.1,491.4 266.1,474 397.9,474 397.9,510.1" fill="none" stroke="#231f20" stroke-width="3.2" stroke-linejoin="miter" />
<line x1="364.04" y1="393.7" x2="364.04" y2="409.5" stroke="#231f20" stroke-width="3.1" />
<line x1="357.2" y1="397.65" x2="370.88" y2="405.55" stroke="#231f20" stroke-width="3.1" />
<line x1="370.88" y1="397.65" x2="357.2" y2="405.55" stroke="#231f20" stroke-width="3.1" />
<line x1="385.55" y1="393.7" x2="385.55" y2="409.5" stroke="#231f20" stroke-width="3.1" />
<line x1="378.71" y1="397.65" x2="392.39" y2="405.55" stroke="#231f20" stroke-width="3.1" />
<line x1="392.39" y1="397.65" x2="378.71" y2="405.55" stroke="#231f20" stroke-width="3.1" />
<line x1="407.05" y1="393.7" x2="407.05" y2="409.5" stroke="#231f20" stroke-width="3.1" />
<line x1="400.21" y1="397.65" x2="413.89" y2="405.55" stroke="#231f20" stroke-width="3.1" />
<line x1="413.89" y1="397.65" x2="400.21" y2="405.55" stroke="#231f20" stroke-width="3.1" />
<line x1="428.56" y1="393.7" x2="428.56" y2="409.5" stroke="#231f20" stroke-width="3.1" />
<line x1="421.72" y1="397.65" x2="435.4" y2="405.55" stroke="#231f20" stroke-width="3.1" />
<line x1="435.4" y1="397.65" x2="421.72" y2="405.55" stroke="#231f20" stroke-width="3.1" />
<line x1="311.84" y1="443.3" x2="311.84" y2="459.1" stroke="#231f20" stroke-width="3.1" />
<line x1="305" y1="447.25" x2="318.68" y2="455.15" stroke="#231f20" stroke-width="3.1" />
<line x1="318.68" y1="447.25" x2="305" y2="455.15" stroke="#231f20" stroke-width="3.1" />
<line x1="333.55" y1="443.3" x2="333.55" y2="459.1" stroke="#231f20" stroke-width="3.1" />
<line x1="326.71" y1="447.25" x2="340.39" y2="455.15" stroke="#231f20" stroke-width="3.1" />
<line x1="340.39" y1="447.25" x2="326.71" y2="455.15" stroke="#231f20" stroke-width="3.1" />
<line x1="355.26" y1="443.3" x2="355.26" y2="459.1" stroke="#231f20" stroke-width="3.1" />
<line x1="348.42" y1="447.25" x2="362.1" y2="455.15" stroke="#231f20" stroke-width="3.1" />
<line x1="362.1" y1="447.25" x2="348.42" y2="455.15" stroke="#231f20" stroke-width="3.1" />
</g>
<g id="b_ylab">
<text transform="translate(98.9,893.2) rotate(-90)" font-family="Liberation Sans" font-size="33.5" font-weight="700" fill="#231f20" textLength="433.8" lengthAdjust="spacingAndGlyphs">Log<tspan font-size="25" font-weight="700" dy="7.8">10</tspan><tspan dy="-7.8"> RNA copies / mg lung</tspan></text>
</g>
<g id="b_letter">
<text transform="translate(0.4,458.2)" font-family="Liberation Sans" font-size="39" font-weight="700" text-anchor="start" fill="#231f20" >b</text>
</g>
<g id="bx0">
<text transform="translate(270.1,1012.7) scale(1,1) rotate(-45)" font-family="Liberation Sans" font-size="28.6" font-weight="700" text-anchor="end" fill="#231f20">Vehicle</text>
</g>
<g id="bx1">
<text transform="translate(407.3,1006.7) scale(1,1) rotate(-45)" font-family="Liberation Sans" font-size="28.6" font-weight="700" text-anchor="end" fill="#231f20">PF-332 (125 mg/kg BID)</text>
</g>
<g id="bx2">
<text transform="translate(538.5,1006.7) scale(1,1) rotate(-45)" font-family="Liberation Sans" font-size="28.6" font-weight="700" text-anchor="end" fill="#231f20">PF-332 (250 mg/kg BID)</text>
</g>
<g id="c_axes">
<line x1="920.8" y1="420.42" x2="920.8" y2="964.5" stroke="#231f20" stroke-width="3.5" />
<line x1="919.1" y1="962.8" x2="1345.5" y2="962.8" stroke="#231f20" stroke-width="3.3" />
<line x1="906.5" y1="962.8" x2="920.8" y2="962.8" stroke="#231f20" stroke-width="3.4" />
<text transform="translate(902.6,974.91) scale(0.93,1)" font-family="Liberation Sans" font-size="35.8" font-weight="400" text-anchor="end" fill="#231f20" >0</text>
<line x1="906.5" y1="872.67" x2="920.8" y2="872.67" stroke="#231f20" stroke-width="3.4" />
<text transform="translate(902.6,884.78) scale(0.93,1)" font-family="Liberation Sans" font-size="35.8" font-weight="400" text-anchor="end" fill="#231f20" >1</text>
<line x1="906.5" y1="782.54" x2="920.8" y2="782.54" stroke="#231f20" stroke-width="3.4" />
<text transform="translate(902.6,794.65) scale(0.93,1)" font-family="Liberation Sans" font-size="35.8" font-weight="400" text-anchor="end" fill="#231f20" >2</text>
<line x1="906.5" y1="692.41" x2="920.8" y2="692.41" stroke="#231f20" stroke-width="3.4" />
<text transform="translate(902.6,704.52) scale(0.93,1)" font-family="Liberation Sans" font-size="35.8" font-weight="400" text-anchor="end" fill="#231f20" >3</text>
<line x1="906.5" y1="602.28" x2="920.8" y2="602.28" stroke="#231f20" stroke-width="3.4" />
<text transform="translate(902.6,614.39) scale(0.93,1)" font-family="Liberation Sans" font-size="35.8" font-weight="400" text-anchor="end" fill="#231f20" >4</text>
<line x1="906.5" y1="512.15" x2="920.8" y2="512.15" stroke="#231f20" stroke-width="3.4" />
<text transform="translate(902.6,524.26) scale(0.93,1)" font-family="Liberation Sans" font-size="35.8" font-weight="400" text-anchor="end" fill="#231f20" >5</text>
<line x1="906.5" y1="422.02" x2="920.8" y2="422.02" stroke="#231f20" stroke-width="3.4" />
<text transform="translate(902.6,434.13) scale(0.93,1)" font-family="Liberation Sans" font-size="35.8" font-weight="400" text-anchor="end" fill="#231f20" >6</text>
<line x1="1004.4" y1="962.8" x2="1004.4" y2="978" stroke="#231f20" stroke-width="3.3" />
<line x1="1132" y1="962.8" x2="1132" y2="978" stroke="#231f20" stroke-width="3.3" />
<line x1="1258.8" y1="962.8" x2="1258.8" y2="978" stroke="#231f20" stroke-width="3.3" />
</g>
<g id="c_data">
<circle cx="929.9" cy="872.8" r="1.8" fill="#231f20"/>
<circle cx="939.85" cy="872.8" r="1.8" fill="#231f20"/>
<circle cx="949.8" cy="872.8" r="1.8" fill="#231f20"/>
<circle cx="959.75" cy="872.8" r="1.8" fill="#231f20"/>
<circle cx="969.7" cy="872.8" r="1.8" fill="#231f20"/>
<circle cx="979.65" cy="872.8" r="1.8" fill="#231f20"/>
<circle cx="989.6" cy="872.8" r="1.8" fill="#231f20"/>
<circle cx="999.55" cy="872.8" r="1.8" fill="#231f20"/>
<circle cx="1009.5" cy="872.8" r="1.8" fill="#231f20"/>
<circle cx="1019.45" cy="872.8" r="1.8" fill="#231f20"/>
<circle cx="1029.4" cy="872.8" r="1.8" fill="#231f20"/>
<circle cx="1039.35" cy="872.8" r="1.8" fill="#231f20"/>
<circle cx="1049.3" cy="872.8" r="1.8" fill="#231f20"/>
<circle cx="1059.25" cy="872.8" r="1.8" fill="#231f20"/>
<circle cx="1069.2" cy="872.8" r="1.8" fill="#231f20"/>
<circle cx="1079.15" cy="872.8" r="1.8" fill="#231f20"/>
<circle cx="1089.1" cy="872.8" r="1.8" fill="#231f20"/>
<circle cx="1099.05" cy="872.8" r="1.8" fill="#231f20"/>
<circle cx="1109" cy="872.8" r="1.8" fill="#231f20"/>
<circle cx="1118.95" cy="872.8" r="1.8" fill="#231f20"/>
<circle cx="1128.9" cy="872.8" r="1.8" fill="#231f20"/>
<circle cx="1138.85" cy="872.8" r="1.8" fill="#231f20"/>
<circle cx="1148.8" cy="872.8" r="1.8" fill="#231f20"/>
<circle cx="1158.75" cy="872.8" r="1.8" fill="#231f20"/>
<circle cx="1168.7" cy="872.8" r="1.8" fill="#231f20"/>
<circle cx="1178.65" cy="872.8" r="1.8" fill="#231f20"/>
<circle cx="1188.6" cy="872.8" r="1.8" fill="#231f20"/>
<circle cx="1198.55" cy="872.8" r="1.8" fill="#231f20"/>
<circle cx="1208.5" cy="872.8" r="1.8" fill="#231f20"/>
<circle cx="1218.45" cy="872.8" r="1.8" fill="#231f20"/>
<circle cx="1228.4" cy="872.8" r="1.8" fill="#231f20"/>
<circle cx="1238.35" cy="872.8" r="1.8" fill="#231f20"/>
<circle cx="1248.3" cy="872.8" r="1.8" fill="#231f20"/>
<circle cx="1258.25" cy="872.8" r="1.8" fill="#231f20"/>
<circle cx="1268.2" cy="872.8" r="1.8" fill="#231f20"/>
<circle cx="1278.15" cy="872.8" r="1.8" fill="#231f20"/>
<circle cx="1288.1" cy="872.8" r="1.8" fill="#231f20"/>
<circle cx="1298.05" cy="872.8" r="1.8" fill="#231f20"/>
<circle cx="1308" cy="872.8" r="1.8" fill="#231f20"/>
<circle cx="1317.95" cy="872.8" r="1.8" fill="#231f20"/>
<circle cx="1327.9" cy="872.8" r="1.8" fill="#231f20"/>
<circle cx="1337.85" cy="872.8" r="1.8" fill="#231f20"/>
<ellipse cx="972.8" cy="514.4" rx="10" ry="10.65" fill="#214fa2"/>
<ellipse cx="1015.8" cy="505.1" rx="10" ry="10.65" fill="#214fa2"/>
<ellipse cx="1037.4" cy="512.1" rx="10" ry="10.65" fill="#214fa2"/>
<ellipse cx="994.2" cy="523.5" rx="10" ry="10.65" fill="#214fa2"/>
<ellipse cx="1015.8" cy="527.6" rx="10" ry="10.65" fill="#214fa2"/>
<ellipse cx="972.8" cy="559.5" rx="10" ry="10.65" fill="#214fa2"/>
<ellipse cx="1015.8" cy="566.4" rx="10" ry="10.65" fill="#214fa2"/>
<ellipse cx="994.2" cy="575.3" rx="10" ry="10.65" fill="#214fa2"/>
<ellipse cx="1005" cy="606.4" rx="10" ry="10.65" fill="#214fa2"/>
<ellipse cx="1005" cy="638" rx="10" ry="10.65" fill="#214fa2"/>
<ellipse cx="994.2" cy="665.4" rx="10" ry="10.65" fill="#214fa2"/>
<ellipse cx="1015.8" cy="662.9" rx="10" ry="10.65" fill="#214fa2"/>
<ellipse cx="1132" cy="512.1" rx="10" ry="10.65" fill="#f39748"/>
<ellipse cx="1132" cy="567.2" rx="10" ry="10.65" fill="#f39748"/>
<ellipse cx="1099.8" cy="575.5" rx="10" ry="10.65" fill="#f39748"/>
<ellipse cx="1164.4" cy="584.6" rx="10" ry="10.65" fill="#f39748"/>
<ellipse cx="1132" cy="601.4" rx="10" ry="10.65" fill="#f39748"/>
<ellipse cx="1132" cy="672.7" rx="10" ry="10.65" fill="#f39748"/>
<ellipse cx="1115.8" cy="696.8" rx="10" ry="10.65" fill="#f39748"/>
<ellipse cx="1147.9" cy="696.8" rx="10" ry="10.65" fill="#f39748"/>
<ellipse cx="1115.8" cy="872.8" rx="10" ry="10.65" fill="#f39748"/>
<ellipse cx="1148.1" cy="861.4" rx="10" ry="10.65" fill="#f39748"/>
<ellipse cx="1227.3" cy="873.2" rx="10" ry="10.6" fill="#2bb052"/>
<ellipse cx="1233.1" cy="873.2" rx="10" ry="10.6" fill="#2bb052"/>
<ellipse cx="1238.9" cy="873.2" rx="10" ry="10.6" fill="#2bb052"/>
<ellipse cx="1244.7" cy="873.2" rx="10" ry="10.6" fill="#2bb052"/>
<ellipse cx="1250.5" cy="873.2" rx="10" ry="10.6" fill="#2bb052"/>
<ellipse cx="1256.3" cy="873.2" rx="10" ry="10.6" fill="#2bb052"/>
<ellipse cx="1262.1" cy="873.2" rx="10" ry="10.6" fill="#2bb052"/>
<ellipse cx="1267.9" cy="873.2" rx="10" ry="10.6" fill="#2bb052"/>
<ellipse cx="1273.7" cy="873.2" rx="10" ry="10.6" fill="#2bb052"/>
<ellipse cx="1279.5" cy="873.2" rx="10" ry="10.6" fill="#2bb052"/>
<ellipse cx="1285.3" cy="873.2" rx="10" ry="10.6" fill="#2bb052"/>
<ellipse cx="1291.1" cy="873.2" rx="10" ry="10.6" fill="#2bb052"/>
<line x1="963" y1="562.5" x2="1047.1" y2="562.5" stroke="#231f20" stroke-width="3.4" />
<line x1="1089.8" y1="622.5" x2="1174" y2="622.5" stroke="#231f20" stroke-width="3.4" />
<line x1="1217.5" y1="872.8" x2="1301" y2="872.8" stroke="#231f20" stroke-width="3.6" />
</g>
<g id="c_sig">
<polyline points="1002.1,415.3 1002.1,398 1262.3,398 1262.3,457.2" fill="none" stroke="#231f20" stroke-width="3.2" stroke-linejoin="miter" />
<polyline points="1008.7,465.3 1008.7,448.2 1135.8,448.2 1135.8,484.1" fill="none" stroke="#231f20" stroke-width="3.2" stroke-linejoin="miter" />
<line x1="1103.23" y1="366.8" x2="1103.23" y2="382.8" stroke="#231f20" stroke-width="3.1" />
<line x1="1096.3" y1="370.8" x2="1110.16" y2="378.8" stroke="#231f20" stroke-width="3.1" />
<line x1="1110.16" y1="370.8" x2="1096.3" y2="378.8" stroke="#231f20" stroke-width="3.1" />
<line x1="1123.78" y1="366.8" x2="1123.78" y2="382.8" stroke="#231f20" stroke-width="3.1" />
<line x1="1116.85" y1="370.8" x2="1130.7" y2="378.8" stroke="#231f20" stroke-width="3.1" />
<line x1="1130.7" y1="370.8" x2="1116.85" y2="378.8" stroke="#231f20" stroke-width="3.1" />
<line x1="1144.32" y1="366.8" x2="1144.32" y2="382.8" stroke="#231f20" stroke-width="3.1" />
<line x1="1137.4" y1="370.8" x2="1151.25" y2="378.8" stroke="#231f20" stroke-width="3.1" />
<line x1="1151.25" y1="370.8" x2="1137.4" y2="378.8" stroke="#231f20" stroke-width="3.1" />
<line x1="1164.87" y1="366.8" x2="1164.87" y2="382.8" stroke="#231f20" stroke-width="3.1" />
<line x1="1157.94" y1="370.8" x2="1171.8" y2="378.8" stroke="#231f20" stroke-width="3.1" />
<line x1="1171.8" y1="370.8" x2="1157.94" y2="378.8" stroke="#231f20" stroke-width="3.1" />
<line x1="1073.3" y1="416.9" x2="1073.3" y2="432.9" stroke="#231f20" stroke-width="3.1" />
<line x1="1066.37" y1="420.9" x2="1080.23" y2="428.9" stroke="#231f20" stroke-width="3.1" />
<line x1="1080.23" y1="420.9" x2="1066.37" y2="428.9" stroke="#231f20" stroke-width="3.1" />
</g>
<g id="c_ylab">
<text transform="translate(847.0,862.0) rotate(-90)" font-family="Liberation Sans" font-size="32" font-weight="700" fill="#231f20" textLength="345.4" lengthAdjust="spacingAndGlyphs">Log<tspan font-size="24" font-weight="700" dy="7.5">10</tspan><tspan dy="-7.5"> TCID</tspan><tspan font-size="24" font-weight="700" dy="7.5">50</tspan><tspan dy="-7.5">/mg lung</tspan></text>
</g>
<g id="c_letter">
<text transform="translate(758.2,456.6)" font-family="Liberation Sans" font-size="38.5" font-weight="700" text-anchor="start" fill="#231f20" >c</text>
</g>
<g id="cx0">
<text transform="translate(1007.77,1009.41) scale(0.96,1.01) rotate(-45)" font-family="Liberation Sans" font-size="28.6" font-weight="700" text-anchor="end" fill="#231f20">Vehicle</text>
</g>
<g id="cx1">
<text transform="translate(1141.15,1003.35) scale(0.96,1.01) rotate(-45)" font-family="Liberation Sans" font-size="28.6" font-weight="700" text-anchor="end" fill="#231f20">PF-332 (125 mg/kg BID)</text>
</g>
<g id="cx2">
<text transform="translate(1267.95,1003.35) scale(0.96,1.01) rotate(-45)" font-family="Liberation Sans" font-size="28.6" font-weight="700" text-anchor="end" fill="#231f20">PF-332 (250 mg/kg BID)</text>
</g>
<g id="d_axes">
<line x1="182.8" y1="1359.79" x2="182.8" y2="1892.7" stroke="#231f20" stroke-width="3.5" />
<line x1="168.7" y1="1891" x2="619.8" y2="1891" stroke="#231f20" stroke-width="3.3" />
<line x1="168.5" y1="1361.39" x2="182.8" y2="1361.39" stroke="#231f20" stroke-width="3.4" />
<text transform="translate(165.2,1373.11) scale(0.94,1)" font-family="Liberation Sans" font-size="34.7" font-weight="400" text-anchor="end" fill="#231f20" >15</text>
<line x1="168.5" y1="1449.66" x2="182.8" y2="1449.66" stroke="#231f20" stroke-width="3.4" />
<text transform="translate(165.2,1461.38) scale(0.94,1)" font-family="Liberation Sans" font-size="34.7" font-weight="400" text-anchor="end" fill="#231f20" >10</text>
<line x1="168.5" y1="1537.93" x2="182.8" y2="1537.93" stroke="#231f20" stroke-width="3.4" />
<text transform="translate(165.2,1549.65) scale(0.94,1)" font-family="Liberation Sans" font-size="34.7" font-weight="400" text-anchor="end" fill="#231f20" >5</text>
<line x1="168.5" y1="1626.2" x2="182.8" y2="1626.2" stroke="#231f20" stroke-width="3.4" />
<text transform="translate(165.2,1637.92) scale(0.94,1)" font-family="Liberation Sans" font-size="34.7" font-weight="400" text-anchor="end" fill="#231f20" >0</text>
<line x1="168.5" y1="1714.47" x2="182.8" y2="1714.47" stroke="#231f20" stroke-width="3.4" />
<text transform="translate(165.2,1726.19) scale(0.94,1)" font-family="Liberation Sans" font-size="34.7" font-weight="400" text-anchor="end" fill="#231f20" >-5</text>
<line x1="168.5" y1="1802.74" x2="182.8" y2="1802.74" stroke="#231f20" stroke-width="3.4" />
<text transform="translate(165.2,1814.46) scale(0.94,1)" font-family="Liberation Sans" font-size="34.7" font-weight="400" text-anchor="end" fill="#231f20" >-10</text>
<line x1="168.5" y1="1891.01" x2="182.8" y2="1891.01" stroke="#231f20" stroke-width="3.4" />
<text transform="translate(165.2,1902.73) scale(0.94,1)" font-family="Liberation Sans" font-size="34.7" font-weight="400" text-anchor="end" fill="#231f20" >-15</text>
<line x1="269.4" y1="1891" x2="269.4" y2="1905.5" stroke="#231f20" stroke-width="3.3" />
<line x1="400" y1="1891" x2="400" y2="1905.5" stroke="#231f20" stroke-width="3.3" />
<line x1="530.8" y1="1891" x2="530.8" y2="1905.5" stroke="#231f20" stroke-width="3.3" />
</g>
<g id="d_data">
<polyline points="227.8,1623 227.8,1674 311.6,1674 311.6,1626.2" fill="none" stroke="#231f20" stroke-width="3.2" stroke-linejoin="miter" />
<polyline points="358.4,1626.2 358.4,1576 442.3,1576 442.3,1626.2" fill="none" stroke="#231f20" stroke-width="3.2" stroke-linejoin="miter" />
<polyline points="488.6,1626.2 488.6,1559.2 572.8,1559.2 572.8,1626.2" fill="none" stroke="#231f20" stroke-width="3.2" stroke-linejoin="miter" />
<line x1="182.8" y1="1626.2" x2="618.8" y2="1626.2" stroke="#231f20" stroke-width="3.3" />
<line x1="269.6" y1="1605.9" x2="269.6" y2="1745.7" stroke="#214fa2" stroke-width="3.4" />
<line x1="248.2" y1="1605.9" x2="290.9" y2="1605.9" stroke="#214fa2" stroke-width="3.4" />
<line x1="248.2" y1="1745.7" x2="290.9" y2="1745.7" stroke="#214fa2" stroke-width="3.4" />
<line x1="400.2" y1="1531" x2="400.2" y2="1617.5" stroke="#f39748" stroke-width="3.4" />
<line x1="378.8" y1="1531" x2="421.8" y2="1531" stroke="#f39748" stroke-width="3.4" />
<line x1="378.8" y1="1617.5" x2="421.8" y2="1617.5" stroke="#f39748" stroke-width="3.4" />
<line x1="531" y1="1470" x2="531" y2="1645.2" stroke="#2bb052" stroke-width="3.4" />
<line x1="509.3" y1="1470" x2="552.3" y2="1470" stroke="#2bb052" stroke-width="3.4" />
<line x1="509.3" y1="1645.2" x2="552.3" y2="1645.2" stroke="#2bb052" stroke-width="3.4" />
<circle cx="236.3" cy="1591.4" r="10.3" fill="#214fa2"/>
<circle cx="269.6" cy="1598.1" r="10.3" fill="#214fa2"/>
<circle cx="303" cy="1596.5" r="10.3" fill="#214fa2"/>
<circle cx="303" cy="1626.3" r="10.3" fill="#214fa2"/>
<circle cx="269.6" cy="1644.2" r="10.3" fill="#214fa2"/>
<circle cx="236.3" cy="1662" r="10.3" fill="#214fa2"/>
<circle cx="303" cy="1679.3" r="10.3" fill="#214fa2"/>
<circle cx="236.3" cy="1690.2" r="10.3" fill="#214fa2"/>
<circle cx="303" cy="1707.7" r="10.3" fill="#214fa2"/>
<circle cx="269.6" cy="1727.2" r="10.3" fill="#214fa2"/>
<circle cx="286" cy="1785.2" r="10.3" fill="#214fa2"/>
<circle cx="252.8" cy="1797.5" r="10.3" fill="#214fa2"/>
<circle cx="367.1" cy="1529.4" r="10.3" fill="#f39748"/>
<circle cx="433.7" cy="1527.5" r="10.3" fill="#f39748"/>
<circle cx="389.1" cy="1545.5" r="10.3" fill="#f39748"/>
<circle cx="367.1" cy="1558" r="10.3" fill="#f39748"/>
<circle cx="411.4" cy="1558" r="10.3" fill="#f39748"/>
<circle cx="433.7" cy="1556.1" r="10.3" fill="#f39748"/>
<circle cx="389.1" cy="1591.4" r="10.3" fill="#f39748"/>
<circle cx="411.4" cy="1587.9" r="10.3" fill="#f39748"/>
<circle cx="400.2" cy="1628.7" r="10.3" fill="#f39748"/>
<circle cx="399.5" cy="1661.2" r="10.3" fill="#f39748"/>
<circle cx="531" cy="1414.8" r="10.3" fill="#2bb052"/>
<circle cx="497.6" cy="1503.2" r="10.3" fill="#2bb052"/>
<circle cx="519.7" cy="1497.7" r="10.3" fill="#2bb052"/>
<circle cx="564.4" cy="1492.6" r="10.3" fill="#2bb052"/>
<circle cx="519.7" cy="1520.6" r="10.3" fill="#2bb052"/>
<circle cx="542" cy="1520.6" r="10.3" fill="#2bb052"/>
<circle cx="564.4" cy="1517.4" r="10.3" fill="#2bb052"/>
<circle cx="530.9" cy="1573.7" r="10.3" fill="#2bb052"/>
<circle cx="530.9" cy="1609" r="10.3" fill="#2bb052"/>
<circle cx="519.7" cy="1662" r="10.3" fill="#2bb052"/>
<circle cx="542" cy="1674.1" r="10.3" fill="#2bb052"/>
<circle cx="530.9" cy="1704.3" r="10.3" fill="#2bb052"/>
</g>
<g id="d_sig">
<polyline points="269.6,1311.3 269.6,1289 534.1,1289 534.1,1346.2" fill="none" stroke="#231f20" stroke-width="3.2" stroke-linejoin="miter" />
<polyline points="269.6,1358.6 269.6,1338.1 404,1338.1 404,1373.3" fill="none" stroke="#231f20" stroke-width="3.2" stroke-linejoin="miter" />
<line x1="392.94" y1="1258.2" x2="392.94" y2="1274" stroke="#231f20" stroke-width="3.1" />
<line x1="386.1" y1="1262.15" x2="399.78" y2="1270.05" stroke="#231f20" stroke-width="3.1" />
<line x1="399.78" y1="1262.15" x2="386.1" y2="1270.05" stroke="#231f20" stroke-width="3.1" />
<line x1="414.66" y1="1258.2" x2="414.66" y2="1274" stroke="#231f20" stroke-width="3.1" />
<line x1="407.82" y1="1262.15" x2="421.5" y2="1270.05" stroke="#231f20" stroke-width="3.1" />
<line x1="421.5" y1="1262.15" x2="407.82" y2="1270.05" stroke="#231f20" stroke-width="3.1" />
<line x1="317.44" y1="1307.6" x2="317.44" y2="1323.4" stroke="#231f20" stroke-width="3.1" />
<line x1="310.6" y1="1311.55" x2="324.28" y2="1319.45" stroke="#231f20" stroke-width="3.1" />
<line x1="324.28" y1="1311.55" x2="310.6" y2="1319.45" stroke="#231f20" stroke-width="3.1" />
<line x1="338.85" y1="1307.6" x2="338.85" y2="1323.4" stroke="#231f20" stroke-width="3.1" />
<line x1="332.01" y1="1311.55" x2="345.69" y2="1319.45" stroke="#231f20" stroke-width="3.1" />
<line x1="345.69" y1="1311.55" x2="332.01" y2="1319.45" stroke="#231f20" stroke-width="3.1" />
<line x1="360.26" y1="1307.6" x2="360.26" y2="1323.4" stroke="#231f20" stroke-width="3.1" />
<line x1="353.42" y1="1311.55" x2="367.1" y2="1319.45" stroke="#231f20" stroke-width="3.1" />
<line x1="367.1" y1="1311.55" x2="353.42" y2="1319.45" stroke="#231f20" stroke-width="3.1" />
</g>
<g id="d_ylab">
<text transform="translate(45.5,1622.4) rotate(-90)" font-family="Liberation Sans" font-size="32.5" font-weight="700" text-anchor="middle" fill="#231f20"  textLength="368" lengthAdjust="spacingAndGlyphs">% Weight change on d†</text>
<text transform="translate(85,1623.5) rotate(-90)" font-family="Liberation Sans" font-size="32.5" font-weight="700" text-anchor="middle" fill="#231f20"  textLength="245" lengthAdjust="spacingAndGlyphs">compared to d0</text>
</g>
<g id="d_letter">
<text transform="translate(9.1,1340.9)" font-family="Liberation Sans" font-size="39" font-weight="700" text-anchor="start" fill="#231f20" >d</text>
</g>
<g id="dx0">
<text transform="translate(272.9,1937.2) scale(1,1) rotate(-45)" font-family="Liberation Sans" font-size="28.6" font-weight="700" text-anchor="end" fill="#231f20">Vehicle</text>
</g>
<g id="dx1">
<text transform="translate(409.8,1931.2) scale(1,1) rotate(-45)" font-family="Liberation Sans" font-size="28.6" font-weight="700" text-anchor="end" fill="#231f20">PF-332 (125 mg/kg BID)</text>
</g>
<g id="dx2">
<text transform="translate(540.3,1931.2) scale(1,1) rotate(-45)" font-family="Liberation Sans" font-size="28.6" font-weight="700" text-anchor="end" fill="#231f20">PF-332 (250 mg/kg BID)</text>
</g>
<g id="e_axes">
<line x1="922" y1="1366.9" x2="922" y2="1887.9" stroke="#231f20" stroke-width="3.5" />
<line x1="908.5" y1="1886.2" x2="1346.2" y2="1886.2" stroke="#231f20" stroke-width="3.3" />
<line x1="908" y1="1886.2" x2="922" y2="1886.2" stroke="#231f20" stroke-width="3.4" />
<text transform="translate(904,1896.66) scale(0.94,1)" font-family="Liberation Sans" font-size="33.4" font-weight="400" text-anchor="end" fill="#231f20" >0</text>
<line x1="908" y1="1782.66" x2="922" y2="1782.66" stroke="#231f20" stroke-width="3.4" />
<text transform="translate(904,1793.12) scale(0.94,1)" font-family="Liberation Sans" font-size="33.4" font-weight="400" text-anchor="end" fill="#231f20" >2</text>
<line x1="908" y1="1679.12" x2="922" y2="1679.12" stroke="#231f20" stroke-width="3.4" />
<text transform="translate(904,1689.58) scale(0.94,1)" font-family="Liberation Sans" font-size="33.4" font-weight="400" text-anchor="end" fill="#231f20" >4</text>
<line x1="908" y1="1575.58" x2="922" y2="1575.58" stroke="#231f20" stroke-width="3.4" />
<text transform="translate(904,1586.04) scale(0.94,1)" font-family="Liberation Sans" font-size="33.4" font-weight="400" text-anchor="end" fill="#231f20" >6</text>
<line x1="908" y1="1472.04" x2="922" y2="1472.04" stroke="#231f20" stroke-width="3.4" />
<text transform="translate(904,1482.5) scale(0.94,1)" font-family="Liberation Sans" font-size="33.4" font-weight="400" text-anchor="end" fill="#231f20" >8</text>
<line x1="908" y1="1368.5" x2="922" y2="1368.5" stroke="#231f20" stroke-width="3.4" />
<text transform="translate(904,1378.96) scale(0.94,1)" font-family="Liberation Sans" font-size="33.4" font-weight="400" text-anchor="end" fill="#231f20" >10</text>
<line x1="1006" y1="1886.2" x2="1006" y2="1900.4" stroke="#231f20" stroke-width="3.3" />
<line x1="1132.7" y1="1886.2" x2="1132.7" y2="1900.4" stroke="#231f20" stroke-width="3.3" />
<line x1="1259.6" y1="1886.2" x2="1259.6" y2="1900.4" stroke="#231f20" stroke-width="3.3" />
</g>
<g id="e_data">
<circle cx="931.3" cy="1808.8" r="1.8" fill="#231f20"/>
<circle cx="941.26" cy="1808.8" r="1.8" fill="#231f20"/>
<circle cx="951.22" cy="1808.8" r="1.8" fill="#231f20"/>
<circle cx="961.18" cy="1808.8" r="1.8" fill="#231f20"/>
<circle cx="971.14" cy="1808.8" r="1.8" fill="#231f20"/>
<circle cx="981.1" cy="1808.8" r="1.8" fill="#231f20"/>
<circle cx="991.06" cy="1808.8" r="1.8" fill="#231f20"/>
<circle cx="1001.02" cy="1808.8" r="1.8" fill="#231f20"/>
<circle cx="1010.98" cy="1808.8" r="1.8" fill="#231f20"/>
<circle cx="1020.94" cy="1808.8" r="1.8" fill="#231f20"/>
<circle cx="1030.9" cy="1808.8" r="1.8" fill="#231f20"/>
<circle cx="1040.86" cy="1808.8" r="1.8" fill="#231f20"/>
<circle cx="1050.82" cy="1808.8" r="1.8" fill="#231f20"/>
<circle cx="1060.78" cy="1808.8" r="1.8" fill="#231f20"/>
<circle cx="1070.74" cy="1808.8" r="1.8" fill="#231f20"/>
<circle cx="1080.7" cy="1808.8" r="1.8" fill="#231f20"/>
<circle cx="1090.66" cy="1808.8" r="1.8" fill="#231f20"/>
<circle cx="1100.62" cy="1808.8" r="1.8" fill="#231f20"/>
<circle cx="1110.58" cy="1808.8" r="1.8" fill="#231f20"/>
<circle cx="1120.54" cy="1808.8" r="1.8" fill="#231f20"/>
<circle cx="1130.5" cy="1808.8" r="1.8" fill="#231f20"/>
<circle cx="1140.46" cy="1808.8" r="1.8" fill="#231f20"/>
<circle cx="1150.42" cy="1808.8" r="1.8" fill="#231f20"/>
<circle cx="1160.38" cy="1808.8" r="1.8" fill="#231f20"/>
<circle cx="1170.34" cy="1808.8" r="1.8" fill="#231f20"/>
<circle cx="1180.3" cy="1808.8" r="1.8" fill="#231f20"/>
<circle cx="1190.26" cy="1808.8" r="1.8" fill="#231f20"/>
<circle cx="1200.22" cy="1808.8" r="1.8" fill="#231f20"/>
<circle cx="1210.18" cy="1808.8" r="1.8" fill="#231f20"/>
<circle cx="1220.14" cy="1808.8" r="1.8" fill="#231f20"/>
<circle cx="1230.1" cy="1808.8" r="1.8" fill="#231f20"/>
<circle cx="1240.06" cy="1808.8" r="1.8" fill="#231f20"/>
<circle cx="1250.02" cy="1808.8" r="1.8" fill="#231f20"/>
<circle cx="1259.98" cy="1808.8" r="1.8" fill="#231f20"/>
<circle cx="1269.94" cy="1808.8" r="1.8" fill="#231f20"/>
<circle cx="1279.9" cy="1808.8" r="1.8" fill="#231f20"/>
<circle cx="1289.86" cy="1808.8" r="1.8" fill="#231f20"/>
<circle cx="1299.82" cy="1808.8" r="1.8" fill="#231f20"/>
<circle cx="1309.78" cy="1808.8" r="1.8" fill="#231f20"/>
<circle cx="1319.74" cy="1808.8" r="1.8" fill="#231f20"/>
<circle cx="1329.7" cy="1808.8" r="1.8" fill="#231f20"/>
<circle cx="1339.66" cy="1808.8" r="1.8" fill="#231f20"/>
<circle cx="1006.2" cy="1368.5" r="9.9" fill="#214fa2"/>
<circle cx="1006.2" cy="1420.27" r="9.9" fill="#214fa2"/>
<circle cx="1006.2" cy="1446.15" r="9.9" fill="#214fa2"/>
<circle cx="1006.2" cy="1497.92" r="9.9" fill="#214fa2"/>
<circle cx="1006.2" cy="1523.81" r="9.9" fill="#214fa2"/>
<circle cx="1006.2" cy="1627.35" r="9.9" fill="#214fa2"/>
<circle cx="974" cy="1653.24" r="9.9" fill="#214fa2"/>
<circle cx="1006.2" cy="1653.24" r="9.9" fill="#214fa2"/>
<circle cx="1038.4" cy="1653.24" r="9.9" fill="#214fa2"/>
<circle cx="974" cy="1679.12" r="9.9" fill="#214fa2"/>
<circle cx="1006.2" cy="1679.12" r="9.9" fill="#214fa2"/>
<circle cx="1038.4" cy="1679.12" r="9.9" fill="#214fa2"/>
<circle cx="1133.1" cy="1679.12" r="9.9" fill="#f39748"/>
<circle cx="1133.1" cy="1705.01" r="9.9" fill="#f39748"/>
<circle cx="1122.5" cy="1730.89" r="9.9" fill="#f39748"/>
<circle cx="1143.8" cy="1730.89" r="9.9" fill="#f39748"/>
<circle cx="1133.1" cy="1756.78" r="9.9" fill="#f39748"/>
<circle cx="1101" cy="1808.55" r="9.9" fill="#f39748"/>
<circle cx="1122.5" cy="1808.55" r="9.9" fill="#f39748"/>
<circle cx="1143.8" cy="1808.55" r="9.9" fill="#f39748"/>
<circle cx="1165.4" cy="1808.55" r="9.9" fill="#f39748"/>
<circle cx="1133.1" cy="1834.43" r="9.9" fill="#f39748"/>
<circle cx="1260.1" cy="1705.01" r="9.9" fill="#2bb052"/>
<circle cx="1228" cy="1808.55" r="9.9" fill="#2bb052"/>
<circle cx="1235.11" cy="1808.55" r="9.9" fill="#2bb052"/>
<circle cx="1242.22" cy="1808.55" r="9.9" fill="#2bb052"/>
<circle cx="1249.33" cy="1808.55" r="9.9" fill="#2bb052"/>
<circle cx="1256.44" cy="1808.55" r="9.9" fill="#2bb052"/>
<circle cx="1263.56" cy="1808.55" r="9.9" fill="#2bb052"/>
<circle cx="1270.67" cy="1808.55" r="9.9" fill="#2bb052"/>
<circle cx="1277.78" cy="1808.55" r="9.9" fill="#2bb052"/>
<circle cx="1284.89" cy="1808.55" r="9.9" fill="#2bb052"/>
<circle cx="1292" cy="1808.55" r="9.9" fill="#2bb052"/>
<circle cx="1260.1" cy="1834.43" r="9.9" fill="#2bb052"/>
<line x1="964" y1="1640.29" x2="1048.6" y2="1640.29" stroke="#231f20" stroke-width="3.4" />
<line x1="1090.7" y1="1782.66" x2="1175.2" y2="1782.66" stroke="#231f20" stroke-width="3.4" />
<line x1="1218" y1="1808.55" x2="1301.9" y2="1808.55" stroke="#231f20" stroke-width="3.6" />
</g>
<g id="e_sig">
<polyline points="1003.3,1304.4 1003.3,1288.1 1260.3,1288.1 1260.3,1566.4" fill="none" stroke="#231f20" stroke-width="3.2" stroke-linejoin="miter" />
<polyline points="1003.3,1347.3 1003.3,1331 1133.3,1331 1133.3,1566.4" fill="none" stroke="#231f20" stroke-width="3.2" stroke-linejoin="miter" />
<line x1="1103.94" y1="1259.4" x2="1103.94" y2="1275.2" stroke="#231f20" stroke-width="3.1" />
<line x1="1097.1" y1="1263.35" x2="1110.78" y2="1271.25" stroke="#231f20" stroke-width="3.1" />
<line x1="1110.78" y1="1263.35" x2="1097.1" y2="1271.25" stroke="#231f20" stroke-width="3.1" />
<line x1="1123.58" y1="1259.4" x2="1123.58" y2="1275.2" stroke="#231f20" stroke-width="3.1" />
<line x1="1116.74" y1="1263.35" x2="1130.42" y2="1271.25" stroke="#231f20" stroke-width="3.1" />
<line x1="1130.42" y1="1263.35" x2="1116.74" y2="1271.25" stroke="#231f20" stroke-width="3.1" />
<line x1="1143.22" y1="1259.4" x2="1143.22" y2="1275.2" stroke="#231f20" stroke-width="3.1" />
<line x1="1136.38" y1="1263.35" x2="1150.06" y2="1271.25" stroke="#231f20" stroke-width="3.1" />
<line x1="1150.06" y1="1263.35" x2="1136.38" y2="1271.25" stroke="#231f20" stroke-width="3.1" />
<line x1="1162.86" y1="1259.4" x2="1162.86" y2="1275.2" stroke="#231f20" stroke-width="3.1" />
<line x1="1156.02" y1="1263.35" x2="1169.7" y2="1271.25" stroke="#231f20" stroke-width="3.1" />
<line x1="1169.7" y1="1263.35" x2="1156.02" y2="1271.25" stroke="#231f20" stroke-width="3.1" />
<line x1="1040.34" y1="1302.6" x2="1040.34" y2="1318.4" stroke="#231f20" stroke-width="3.1" />
<line x1="1033.5" y1="1306.55" x2="1047.18" y2="1314.45" stroke="#231f20" stroke-width="3.1" />
<line x1="1047.18" y1="1306.55" x2="1033.5" y2="1314.45" stroke="#231f20" stroke-width="3.1" />
<line x1="1059.71" y1="1302.6" x2="1059.71" y2="1318.4" stroke="#231f20" stroke-width="3.1" />
<line x1="1052.87" y1="1306.55" x2="1066.56" y2="1314.45" stroke="#231f20" stroke-width="3.1" />
<line x1="1066.56" y1="1306.55" x2="1052.87" y2="1314.45" stroke="#231f20" stroke-width="3.1" />
<line x1="1079.09" y1="1302.6" x2="1079.09" y2="1318.4" stroke="#231f20" stroke-width="3.1" />
<line x1="1072.24" y1="1306.55" x2="1085.93" y2="1314.45" stroke="#231f20" stroke-width="3.1" />
<line x1="1085.93" y1="1306.55" x2="1072.24" y2="1314.45" stroke="#231f20" stroke-width="3.1" />
<line x1="1098.46" y1="1302.6" x2="1098.46" y2="1318.4" stroke="#231f20" stroke-width="3.1" />
<line x1="1091.62" y1="1306.55" x2="1105.3" y2="1314.45" stroke="#231f20" stroke-width="3.1" />
<line x1="1105.3" y1="1306.55" x2="1091.62" y2="1314.45" stroke="#231f20" stroke-width="3.1" />
</g>
<g id="e_ylab">
<text transform="translate(837,1624) rotate(-90)" font-family="Liberation Sans" font-size="33.5" font-weight="700" text-anchor="middle" fill="#231f20"  textLength="350" lengthAdjust="spacingAndGlyphs">Cumulative lung score</text>
</g>
<g id="e_letter">
<text transform="translate(757.6,1341.2)" font-family="Liberation Sans" font-size="39" font-weight="700" text-anchor="start" fill="#231f20" >e</text>
</g>
<g id="ex0">
<text transform="translate(1009.36,1931.2) scale(0.96,0.97) rotate(-45)" font-family="Liberation Sans" font-size="28.6" font-weight="700" text-anchor="end" fill="#231f20">Vehicle</text>
</g>
<g id="ex1">
<text transform="translate(1142.12,1925.39) scale(0.96,0.97) rotate(-45)" font-family="Liberation Sans" font-size="28.6" font-weight="700" text-anchor="end" fill="#231f20">PF-332 (125 mg/kg BID)</text>
</g>
<g id="ex2">
<text transform="translate(1268.72,1925.39) scale(0.96,0.97) rotate(-45)" font-family="Liberation Sans" font-size="28.6" font-weight="700" text-anchor="end" fill="#231f20">PF-332 (250 mg/kg BID)</text>
</g>
</svg>
</body></html>
